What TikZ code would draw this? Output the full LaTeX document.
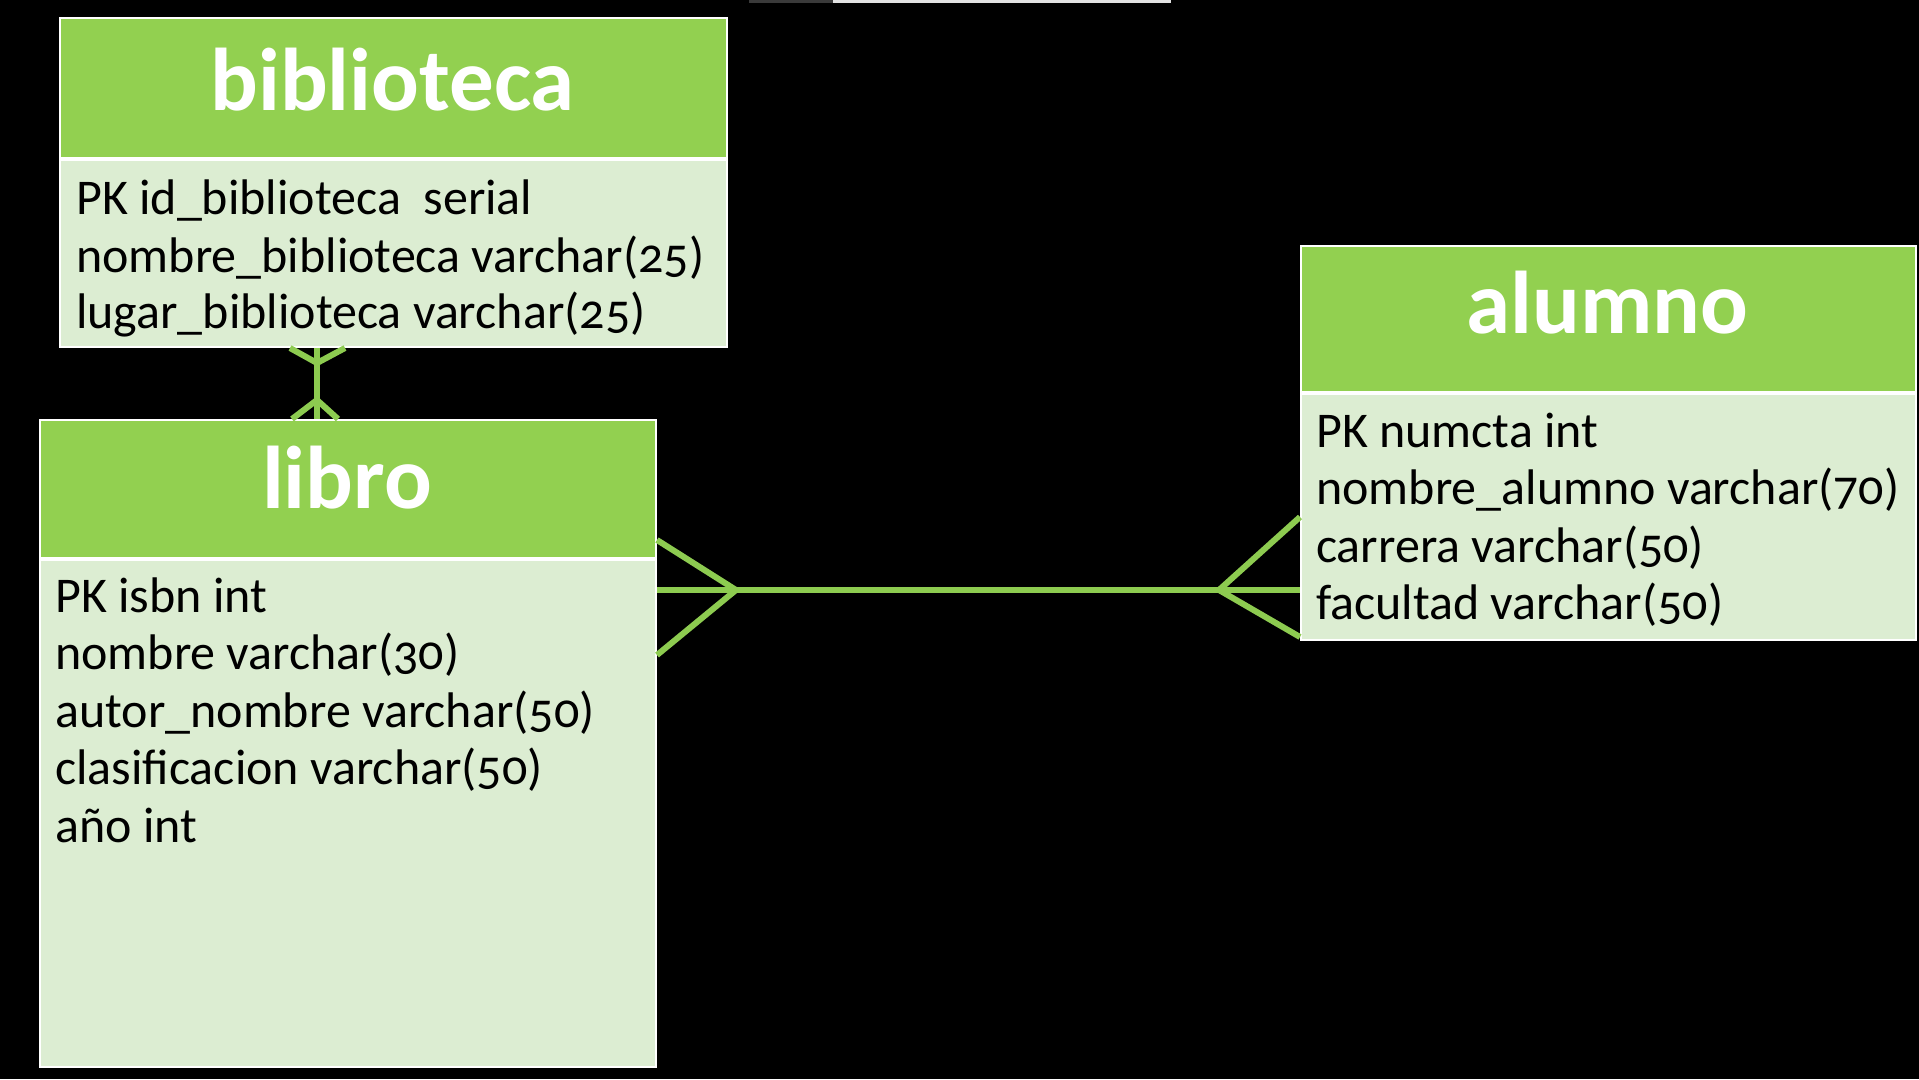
\documentclass[tikz,border=0pt]{standalone}
\usepackage{fontspec}
\setmainfont{Carlito}[Numbers=OldStyle]
\usetikzlibrary{calc}
\definecolor{hdr}{HTML}{92D050}
\definecolor{bdy}{HTML}{DCEDD2}
\definecolor{lnk}{HTML}{8DCB50}
\definecolor{topdark}{HTML}{3A3A3A}
\definecolor{toplight}{HTML}{E2E2E2}
\begin{document}
\begin{tikzpicture}[x=1pt,y=-1pt,
  hdrbox/.style={rectangle, fill=hdr, draw=white, line width=2pt, inner sep=0pt, anchor=north west},
  bdybox/.style={rectangle, fill=bdy, draw=white, line width=2pt, inner sep=0pt, anchor=north west},
  ttl/.style={text=white, font=\fontsize{89}{89}\selectfont\bfseries, inner sep=0pt, anchor=base},
  fld/.style={text=black, font=\fontsize{50}{57}\selectfont, inner sep=0pt, anchor=base west},
  conn/.style={draw=lnk, line width=6pt}]
\fill[black] (0,0) rectangle (1919,1079);
\useasboundingbox (0,0) rectangle (1919,1079);
\fill[topdark] (749,0) rectangle (833,2.5);
\fill[toplight] (833,0) rectangle (1171,2.5);

% biblioteca
\node[hdrbox, minimum width=667pt, minimum height=140pt] (bibH) at (59,17) {};
\node[bdybox, minimum width=667pt, minimum height=187pt] (bibB) at (59,159) {};
\node[ttl] (bibT) at (392.5,110) {biblioteca};
\node[fld] (b1) at (76,214) {PK id\_biblioteca\ \ serial};
\node[fld] (b2) at (76,272) {nombre\_biblioteca varchar(25)};
\node[fld] (b3) at (76,328) {lugar\_biblioteca varchar(25)};

% libro
\node[hdrbox, minimum width=616pt, minimum height=138pt] (libH) at (39,419) {};
\node[bdybox, minimum width=616pt, minimum height=507pt] (libB) at (39,559) {};
\node[ttl] (libT) at (347,508) {libro};
\node[fld] (l1) at (55,612) {PK isbn int};
\node[fld] (l2) at (55,669) {nombre varchar(30)};
\node[fld] (l3) at (55,727) {autor\_nombre varchar(50)};
\node[fld] (l4) at (55,784) {clasificacion varchar(50)};
\node[fld] (l5) at (55,842) {año int};

% alumno
\node[hdrbox, minimum width=615pt, minimum height=146pt] (aluH) at (1300,245) {};
\node[bdybox, minimum width=615pt, minimum height=246pt] (aluB) at (1300,393) {};
\node[ttl] (aluT) at (1607.5,333) {alumno};
\node[fld] (a1) at (1316,447) {PK numcta int};
\node[fld] (a2) at (1316,504) {nombre\_alumno varchar(70)};
\node[fld] (a3) at (1316,562) {carrera varchar(50)};
\node[fld] (a4) at (1316,619) {facultad varchar(50)};

% biblioteca -- libro
\coordinate (m1) at (317,363);
\coordinate (m2) at (317,400);
\draw[conn] (bibB.south -| m1) -- (libH.north -| m1);
\draw[conn] ($(bibB.south -| m1)+(-27,0)$) -- (m1) -- ($(bibB.south -| m1)+(28,0)$);
\draw[conn] ($(libH.north -| m2)+(-25,0)$) -- (m2) -- ($(libH.north -| m2)+(21,0)$);

% libro -- alumno
\coordinate (m3) at (736,590);
\coordinate (m4) at (1219,590);
\draw[conn] (m3 -| libB.east) -- (m4 -| aluB.west);
\draw[conn] ($(m3 -| libB.east)+(0,-50)$) -- (m3) -- ($(m3 -| libB.east)+(0,65)$);
\draw[conn] ($(m4 -| aluB.west)+(0,-73)$) -- (m4) -- ($(m4 -| aluB.west)+(0,47)$);
\end{tikzpicture}
\end{document}
